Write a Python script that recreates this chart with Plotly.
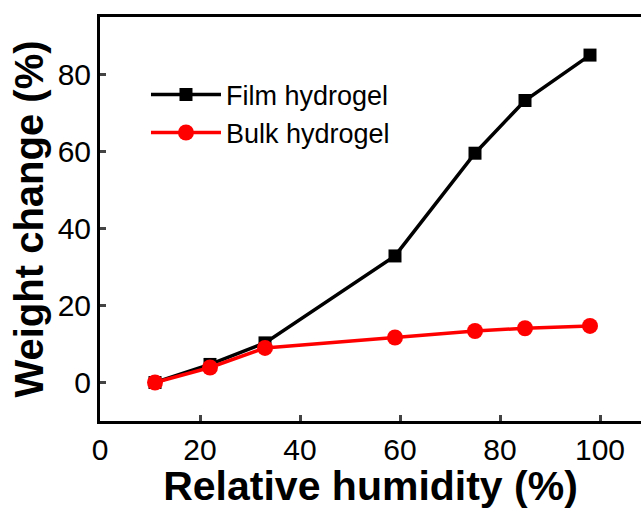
import plotly.graph_objects as go

rh = [11, 22, 33, 59, 75, 85, 98]
film = [0, 4.7, 10.3, 32.9, 59.6, 73.3, 85.1]
bulk = [0, 3.9, 9.0, 11.7, 13.4, 14.1, 14.7]
x_ticks = [0, 20, 40, 60, 80, 100]
y_ticks = [0, 20, 40, 60, 80]

FONT = "Liberation Sans, Arial, sans-serif"

fig = go.Figure()
fig.add_trace(go.Scatter(x=rh, y=film, name="Film hydrogel", mode="lines+markers",
                         line=dict(color="black", width=3.5),
                         marker=dict(symbol="square", size=13, color="black")))
fig.add_trace(go.Scatter(x=rh, y=bulk, name="Bulk hydrogel", mode="lines+markers",
                         line=dict(color="#ff0000", width=3.5),
                         marker=dict(symbol="circle", size=16, color="#ff0000")))

fig.update_layout(
    width=641, height=509,
    margin=dict(l=100, r=0, t=17, b=88),
    paper_bgcolor="white", plot_bgcolor="white",
    font=dict(family=FONT, color="black"),
    showlegend=True,
    legend=dict(x=0.085, y=0.868, xanchor="left", yanchor="top",
                font=dict(size=27, family=FONT), bgcolor="rgba(0,0,0,0)",
                itemwidth=70, tracegroupgap=0),
    xaxis=dict(range=[0, 108.2], tickvals=x_ticks, ticks="inside", ticklen=6, tickwidth=3,
               showline=True, linewidth=3, linecolor="black", mirror=True,
               showgrid=False, zeroline=False, tickfont=dict(size=30, family=FONT),
               title=dict(text="<b>Relative humidity (%)</b>", font=dict(size=41, family=FONT), standoff=10)),
    yaxis=dict(range=[-10, 95], tickvals=y_ticks, ticks="inside", ticklen=6, tickwidth=3,
               showline=True, linewidth=3, linecolor="black", mirror=False,
               showgrid=False, zeroline=False, tickfont=dict(size=30, family=FONT),
               title=dict(text="<b>Weight change (%)</b>", font=dict(size=40, family=FONT), standoff=2)),
)

fig.write_html("out.html")
